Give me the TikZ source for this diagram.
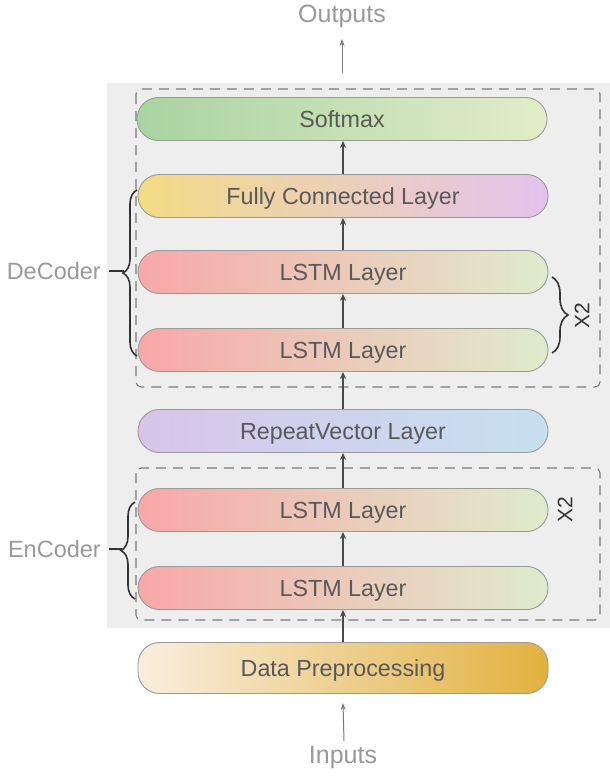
\documentclass[tikz,border=0pt]{standalone}
\usepackage{fontspec}
\setmainfont{Liberation Sans}
\usetikzlibrary{arrows.meta,decorations.pathreplacing}
\definecolor{bggray}{HTML}{EEEEEE}
\definecolor{boxgray}{HTML}{9A9A9A}
\definecolor{txt}{HTML}{595959}
\definecolor{lbl}{HTML}{999999}
\definecolor{dashc}{HTML}{7A7A7A}
\definecolor{arrowdark}{HTML}{4A4A4A}
\definecolor{smL}{HTML}{A9D4A0}
\definecolor{smR}{HTML}{E3EDC8}
\definecolor{fcL}{HTML}{F3DC85}
\definecolor{fcM}{HTML}{ECC4BE}
\definecolor{fcR}{HTML}{E4C2EE}
\definecolor{lsL}{HTML}{F7A8A8}
\definecolor{lsR}{HTML}{DFECCC}
\definecolor{rvL}{HTML}{D8C5EA}
\definecolor{rvR}{HTML}{C5E1EF}
\definecolor{dpL}{HTML}{F9EEDF}
\definecolor{dpR}{HTML}{E2B13F}
\begin{document}
\begin{tikzpicture}[x=1pt,y=-1pt,
  layer/.style={draw=boxgray, line width=0.9pt, rounded corners=21.5pt,
    minimum width=410pt, minimum height=43pt, inner sep=0pt,
    text height=16.5pt, text depth=0pt,
    text=txt, font=\fontsize{23.3}{27}\selectfont, shading angle=80},
  flow/.style={draw=arrowdark, line width=1.8pt, -{Stealth[length=7pt,width=6pt]}},
  ioarrow/.style={draw=lbl!80!black, line width=1pt, -{Stealth[length=7pt,width=5pt]}},
  iolabel/.style={text=lbl, font=\fontsize{25}{29}\selectfont, inner sep=0pt},
  sidelabel/.style={text=lbl, font=\fontsize{23.5}{27}\selectfont, inner sep=0pt},
  groupbox/.style={draw=dashc, line width=1.1pt, dash pattern=on 10pt off 7pt, rounded corners=5pt},
  bracec/.style={draw=black!80, line width=1.6pt, decorate},
  timeslabel/.style={text=black!80, font=\fontsize{21}{24}\selectfont, rotate=90, inner sep=0pt}
]
\useasboundingbox (0,0) rectangle (610,776);
\fill[bggray] (107,83) rectangle (610,628);
\draw[groupbox] (136,89) rectangle (600,387);
\draw[groupbox] (136,468) rectangle (600,620);

\node[layer, left color=smL, right color=smR] (soft) at (342,119) {Softmax};
\node[layer, left color=fcL, middle color=fcM, right color=fcR] (fc) at (343,196) {Fully Connected Layer};
\node[layer, left color=lsL, right color=lsR] (dl1) at (343,272) {LSTM Layer};
\node[layer, left color=lsL, right color=lsR] (dl2) at (343,350) {LSTM Layer};
\node[layer, left color=rvL, right color=rvR] (rv) at (343,431) {RepeatVector Layer};
\node[layer, left color=lsL, right color=lsR] (el1) at (343,510) {LSTM Layer};
\node[layer, left color=lsL, right color=lsR] (el2) at (343,588) {LSTM Layer};
\node[layer, left color=dpL, right color=dpR, minimum height=51pt] (dp) at (343,668) {Data Preprocessing};

\node[iolabel] (out) at (342,16) {Outputs};
\node[iolabel] (in) at (343,757) {Inputs};
\coordinate (outfoot) at (342,73);
\coordinate (infoot) at (344,741);

\draw[ioarrow] (outfoot) -- (out.south |- 0,39);
\draw[ioarrow] (infoot) -- (dp.south |- 0,703);

\draw[flow] (fc.north) -- (fc.north |- soft.south);
\draw[flow] (dl1.north) -- (fc.south);
\draw[flow] (dl2.north) -- (dl1.south);
\draw[flow] (rv.north) -- (dl2.south);
\draw[flow] (el1.north) -- (rv.south);
\draw[flow] (el2.north) -- (el1.south);
\draw[flow] (dp.north) -- (el2.south);

% DeCoder brace
\node[sidelabel, anchor=east] (dec) at (101,271) {DeCoder};
\draw[bracec, decoration={brace, amplitude=14pt}] (137,356) -- (137,190);
\draw[bracec] (dec.east) ++(8,0) -- (124,271);
% EnCoder brace
\node[sidelabel, anchor=east] (enc) at (101,549) {EnCoder};
\draw[bracec, decoration={brace, amplitude=14pt}] (135,599) -- (135,502);
\draw[bracec] (enc.east) ++(8,0) -- (122,549);
% right brace X2
\draw[bracec, decoration={brace, amplitude=16pt}] (552,277) -- (552,353);
\node[timeslabel] (x2a) at (582,316) {X2};
\node[timeslabel] (x2b) at (565,510) {X2};
\end{tikzpicture}
\end{document}
